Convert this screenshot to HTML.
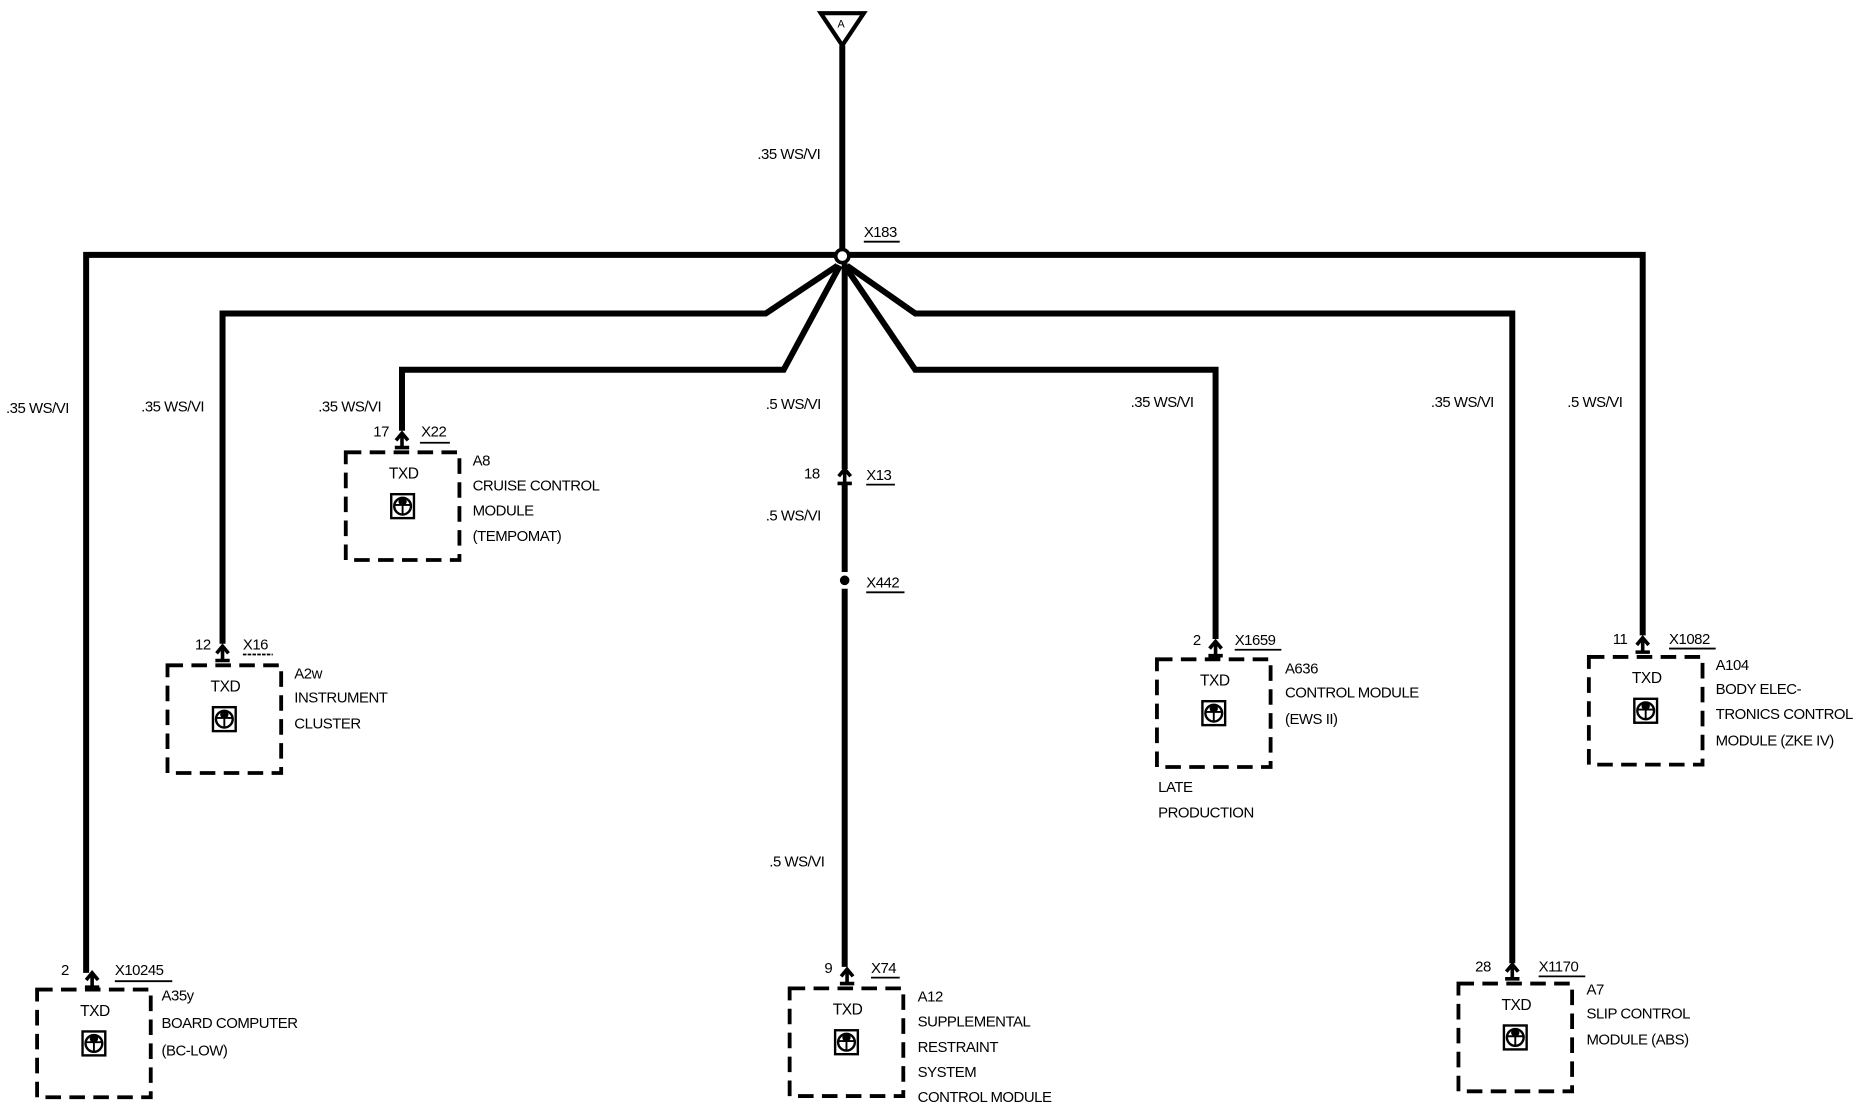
<!DOCTYPE html>
<html><head><meta charset="utf-8"><style>
html,body{margin:0;padding:0;background:#fff;}
svg{display:block;}
text{font-family:"Liberation Sans",sans-serif;font-size:12.5px;fill:#000;letter-spacing:-0.4px;}
.w{stroke:#000;stroke-width:5;fill:none;stroke-linejoin:miter;}
.b{stroke:#000;stroke-width:3.2;fill:none;stroke-dasharray:13 7;}
.t{stroke:#000;stroke-width:1.5;fill:none;}
</style></head><body>
<svg width="1876" height="1120" viewBox="0 0 1568 936" preserveAspectRatio="none" xmlns="http://www.w3.org/2000/svg">
<defs>
<g id="box">
<rect x="0" y="0" width="95" height="90" class="b"/>
<text x="36" y="22" style="font-size:13px">TXD</text>
<rect x="38" y="35" width="19" height="20" stroke="#000" stroke-width="2" fill="none"/>
<circle cx="47.5" cy="45" r="7" stroke="#000" stroke-width="2" fill="none"/>
<path d="M41,44 L54,44 M47.5,44 L47.5,52" stroke="#000" stroke-width="1.6"/>
<circle cx="47.5" cy="41" r="3.5" fill="#000"/>
</g>
<g id="conn">
<path d="M-5,6 L0,0 L5,6" stroke="#000" stroke-width="3" fill="none"/>
<path d="M0,2 L0,12 M-6,12 L6,12" stroke="#000" stroke-width="3"/>
</g>
</defs>

<!-- top triangle -->
<path d="M686,11 L722,11 L704,38 Z" stroke="#000" stroke-width="3.5" fill="#fff"/>
<text x="700" y="23" style="font-size:9px">A</text>
<line x1="704" y1="38" x2="704" y2="208" class="w"/>
<text x="633" y="133">.35 WS/VI</text>

<!-- main horizontal -->
<path d="M698,213 L72,213 L72,813" class="w"/>
<path d="M710,213 L1373,213 L1373,531" class="w"/>
<circle cx="704" cy="214" r="5.5" stroke="#000" stroke-width="3" fill="#fff"/>
<text x="722" y="198">X183</text>
<line x1="722" y1="202" x2="752" y2="202" stroke="#000" stroke-width="1.5"/>

<!-- branches -->
<path d="M700,222 L640,262 L186,262 L186,538" class="w"/>
<path d="M702,222 L655,309 L336,309 L336,360" class="w"/>
<path d="M708,222 L765,262 L1264,262 L1264,805" class="w"/>
<path d="M706,222 L765,309 L1016,309 L1016,534" class="w"/>
<path d="M706,220 L706,392" class="w"/>
<path d="M706,404 L706,478" class="w"/>
<path d="M706,492 L706,808" class="w"/>
<circle cx="706" cy="485" r="4" fill="#000"/>

<!-- trunk labels -->
<text x="640" y="342">.5 WS/VI</text>
<text x="672" y="400">18</text>
<use href="#conn" x="706" y="392"/>
<text x="724" y="401">X13</text>
<line x1="724" y1="405" x2="748" y2="405" stroke="#000" stroke-width="1.5"/>
<text x="640" y="435">.5 WS/VI</text>
<text x="724" y="491">X442</text>
<line x1="724" y1="495" x2="756" y2="495" stroke="#000" stroke-width="1.5"/>
<text x="643" y="724">.5 WS/VI</text>

<!-- wire labels -->
<text x="5" y="345">.35 WS/VI</text>
<text x="118" y="344">.35 WS/VI</text>
<text x="266" y="344">.35 WS/VI</text>
<text x="945" y="340">.35 WS/VI</text>
<text x="1196" y="340">.35 WS/VI</text>
<text x="1310" y="340">.5 WS/VI</text>

<!-- A8 -->
<use href="#conn" x="336" y="362"/>
<use href="#box" x="289" y="378"/>
<text x="312" y="365">17</text>
<text x="352" y="365">X22</text>
<line x1="351" y1="370" x2="376" y2="370" stroke="#000" stroke-width="1.5"/>
<text x="395" y="389">A8</text>
<text x="395" y="410">CRUISE CONTROL</text>
<text x="395" y="431">MODULE</text>
<text x="395" y="452">(TEMPOMAT)</text>

<!-- A2w -->
<use href="#conn" x="186" y="540"/>
<use href="#box" x="140" y="556"/>
<text x="163" y="543">12</text>
<text x="203" y="543">X16</text>
<line x1="203" y1="547" x2="228" y2="547" stroke="#000" stroke-width="1.5" stroke-dasharray="3 1"/>
<text x="246" y="567">A2w</text>
<text x="246" y="587">INSTRUMENT</text>
<text x="246" y="609">CLUSTER</text>

<!-- A35y -->
<use href="#conn" x="77" y="813"/>
<use href="#box" x="31" y="827"/>
<text x="51" y="815">2</text>
<text x="96" y="815">X10245</text>
<line x1="96" y1="820" x2="144" y2="820" stroke="#000" stroke-width="1.5"/>
<text x="135" y="836">A35y</text>
<text x="135" y="859">BOARD COMPUTER</text>
<text x="135" y="882">(BC-LOW)</text>

<!-- A12 -->
<use href="#conn" x="708" y="810"/>
<use href="#box" x="660" y="826"/>
<text x="689" y="813">9</text>
<text x="728" y="813">X74</text>
<line x1="728" y1="817" x2="752" y2="817" stroke="#000" stroke-width="1.5"/>
<text x="767" y="837">A12</text>
<text x="767" y="858">SUPPLEMENTAL</text>
<text x="767" y="879">RESTRAINT</text>
<text x="767" y="900">SYSTEM</text>
<text x="767" y="921">CONTROL MODULE</text>

<!-- A636 -->
<use href="#conn" x="1016" y="536"/>
<use href="#box" x="967" y="551"/>
<text x="997" y="539">2</text>
<text x="1032" y="539">X1659</text>
<line x1="1032" y1="543" x2="1071" y2="543" stroke="#000" stroke-width="1.5"/>
<text x="1074" y="563">A636</text>
<text x="1074" y="583">CONTROL MODULE</text>
<text x="1074" y="605">(EWS II)</text>
<text x="968" y="662">LATE</text>
<text x="968" y="683">PRODUCTION</text>

<!-- A7 -->
<use href="#conn" x="1264" y="806"/>
<use href="#box" x="1219" y="822"/>
<text x="1233" y="812">28</text>
<text x="1286" y="812">X1170</text>
<line x1="1286" y1="816" x2="1325" y2="816" stroke="#000" stroke-width="1.5"/>
<text x="1326" y="831">A7</text>
<text x="1326" y="851">SLIP CONTROL</text>
<text x="1326" y="873">MODULE (ABS)</text>

<!-- A104 -->
<use href="#conn" x="1373" y="533"/>
<use href="#box" x="1328" y="549"/>
<text x="1348" y="538">11</text>
<text x="1395" y="538">X1082</text>
<line x1="1395" y1="542" x2="1434" y2="542" stroke="#000" stroke-width="1.5"/>
<text x="1434" y="560">A104</text>
<text x="1434" y="580">BODY ELEC-</text>
<text x="1434" y="601">TRONICS CONTROL</text>
<text x="1434" y="623">MODULE (ZKE IV)</text>
</svg>
</body></html>
